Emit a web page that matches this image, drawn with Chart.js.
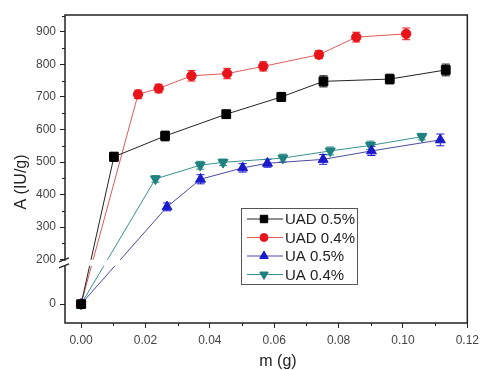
<!DOCTYPE html>
<html><head><meta charset="utf-8">
<script src="https://cdn.jsdelivr.net/npm/chart.js@4/dist/chart.umd.min.js"></script>
<style>html,body{margin:0;padding:0;background:#fff}#wrap{width:484px;height:370px}</style>
</head><body><div id="wrap"><canvas id="c" width="484" height="370"></canvas></div>
<script>
// ---- data ----
const seriesNames = ['UAD 0.5%', 'UAD 0.4%', 'UA 0.5%', 'UA 0.4%'];
const uad05X = [0, 0.0102, 0.0261, 0.0451, 0.0622, 0.0753, 0.0959, 0.1133];
const uad05Y = [0, 516, 580, 647, 700, 748, 755, 783];
const uad05Err = [0, 14, 15, 12, 14, 17, 15, 18];
const uad04X = [0, 0.0177, 0.0241, 0.0343, 0.0454, 0.0566, 0.0739, 0.0855, 0.1010];
const uad04Y = [0, 708, 726, 765, 772, 794, 830, 884, 894];
const uad04Err = [0, 13, 13, 16, 16, 14, 12, 15, 18];
const ua05X = [0, 0.0267, 0.0371, 0.0502, 0.0579, 0.0752, 0.0902, 0.1116];
const ua05Y = [0, 362, 447, 482, 496, 508, 534, 568];
const ua05Err = [0, 12, 14, 13, 12, 15, 14, 18];
const ua04X = [0, 0.0231, 0.0370, 0.0441, 0.0627, 0.0774, 0.0899, 0.1059];
const ua04Y = [0, 448, 490, 499, 512, 534, 551, 578];
const ua04Err = [0, 10, 12, 10, 12, 12, 13, 10];
const xTickValues = [0, 0.02, 0.04, 0.06, 0.08, 0.10, 0.12];
const xMinorValues = [0.01, 0.03, 0.05, 0.07, 0.09, 0.11];
const yTickValues = [0, 200, 300, 400, 500, 600, 700, 800, 900];
const yMinorValues = [250, 350, 450, 550, 650, 750, 850, 950];

// ---- broken axis mapping (0..200 compressed) ----
const BREAK_LOW_DISP = 63;
function toDisp(v) { return v >= 200 ? v : BREAK_LOW_DISP + v * (200 - BREAK_LOW_DISP) / 200; }
function fromDisp(d) { return d >= 200 ? d : (d - BREAK_LOW_DISP) * 200 / (200 - BREAK_LOW_DISP); }

const colors = ['#000000', '#e8141a', '#1a1acc', '#1f8080'];
const lineColors = ['#222222', '#e05a5a', '#4a4aa0', '#3a9090'];
const styles = ['rect', 'circle', 'triangle', 'triangle'];
const rotations = [0, 0, 0, 180];
const radii = [6.2, 4.7, 5.8, 5.8];
const xs = [uad05X, uad04X, ua05X, ua04X];
const ys = [uad05Y, uad04Y, ua05Y, ua04Y];
const errs = [uad05Err, uad04Err, ua05Err, ua04Err];

const datasets = seriesNames.map((name, i) => ({
  label: name,
  data: xs[i].map((x, j) => ({ x: x, y: toDisp(ys[i][j]), err: errs[i][j] })),
  showLine: true,
  borderColor: lineColors[i],
  borderWidth: 1,
  backgroundColor: colors[i],
  pointBackgroundColor: colors[i],
  pointBorderColor: colors[i],
  pointBorderWidth: 1,
  pointStyle: styles[i],
  pointRotation: rotations[i],
  pointRadius: radii[i],
  tension: 0
}));

const FONT = '"Liberation Sans", Arial, sans-serif';

const decor = {
  id: 'decor',
  beforeDatasetsDraw(chart) {
    const ctx = chart.ctx, xs_ = chart.scales.x, ys_ = chart.scales.y;
    ctx.save();
    chart.data.datasets.forEach((ds, i) => {
      ctx.strokeStyle = colors[i];
      ctx.lineWidth = 1;
      ds.data.forEach(p => {
        if (!p.err) return;
        const px = xs_.getPixelForValue(p.x);
        const y1 = ys_.getPixelForValue(p.y + p.err), y2 = ys_.getPixelForValue(p.y - p.err);
        ctx.beginPath();
        ctx.moveTo(px, y1); ctx.lineTo(px, y2);
        ctx.moveTo(px - 4, y1); ctx.lineTo(px + 4, y1);
        ctx.moveTo(px - 4, y2); ctx.lineTo(px + 4, y2);
        ctx.stroke();
      });
    });
    ctx.restore();
  },
  afterDatasetsDraw(chart) {
    const ctx = chart.ctx, a = chart.chartArea, xs_ = chart.scales.x, ys_ = chart.scales.y;
    ctx.save();
    // break band in plot
    const yb = ys_.getPixelForValue(190);
    ctx.fillStyle = '#ffffff';
    ctx.fillRect(a.left + 1, yb - 3, 150, 6);
    // frame
    ctx.strokeStyle = '#222';
    ctx.lineWidth = 1.5;
    ctx.strokeRect(a.left, a.top, a.right - a.left, a.bottom - a.top);
    // minor ticks
    ctx.lineWidth = 1;
    ctx.beginPath();
    xMinorValues.forEach(v => { const p = Math.round(xs_.getPixelForValue(v)) + 0.5; ctx.moveTo(p, a.bottom); ctx.lineTo(p, a.bottom + 3); });
    yMinorValues.forEach(v => { const p = Math.round(ys_.getPixelForValue(toDisp(v))) + 0.5; ctx.moveTo(a.left, p); ctx.lineTo(a.left - 3, p); });
    ctx.stroke();
    // axis break mark
    ctx.fillStyle = '#fff';
    ctx.fillRect(a.left - 2, yb - 2, 4, 5);
    ctx.strokeStyle = '#222';
    ctx.lineWidth = 1.3;
    ctx.beginPath();
    ctx.moveTo(a.left - 6, yb - 1); ctx.lineTo(a.left + 4, yb - 5);
    ctx.moveTo(a.left - 6, yb + 5); ctx.lineTo(a.left + 4, yb + 1);
    ctx.stroke();
    // legend
    const lx = 241, ly = 208, lw = 116, lh = 76;
    ctx.fillStyle = '#fff';
    ctx.fillRect(lx, ly, lw, lh);
    ctx.strokeStyle = '#555';
    ctx.lineWidth = 1;
    ctx.strokeRect(lx + 0.5, ly + 0.5, lw, lh);
    ctx.font = '15px ' + FONT;
    ctx.textBaseline = 'middle';
    ctx.textAlign = 'left';
    seriesNames.forEach((n, i) => {
      const yy = ly + 11 + i * 18.5;
      ctx.strokeStyle = lineColors[i];
      ctx.lineWidth = 1;
      ctx.beginPath(); ctx.moveTo(lx + 6, yy); ctx.lineTo(lx + 42, yy); ctx.stroke();
      ctx.fillStyle = colors[i];
      ctx.strokeStyle = colors[i];
      Chart.helpers.drawPoint(ctx, { pointStyle: styles[i], rotation: rotations[i], radius: radii[i] * 0.85, borderWidth: 1 }, lx + 23, yy);
      ctx.fillStyle = '#222';
      ctx.fillText(n, lx + 44, yy + 1);
    });
    // axis titles
    ctx.fillStyle = '#222';
    ctx.font = '16px ' + FONT;
    ctx.textAlign = 'center';
    ctx.fillText('m (g)', 278, 362);
    ctx.translate(22, 182);
    ctx.rotate(-Math.PI / 2);
    ctx.fillText('A (IU/g)', 0, 0);
    ctx.restore();
  }
};

new Chart(document.getElementById('c'), {
  type: 'scatter',
  data: { datasets: datasets },
  options: {
    responsive: false,
    animation: false,
    devicePixelRatio: 1,
    layout: { padding: { top: 15, right: 12, left: 0, bottom: 0 } },
    plugins: { legend: { display: false }, tooltip: { enabled: false } },
    scales: {
      x: {
        type: 'linear', min: -0.005, max: 0.12,
        afterBuildTicks: s => { s.ticks = xTickValues.map(v => ({ value: v })); },
        afterFit: s => { s.height = 47; },
        grid: { drawOnChartArea: false, drawTicks: true, tickLength: 5, color: '#222' },
        border: { display: false },
        ticks: { color: '#444', font: { size: 12, family: FONT }, padding: 5, maxRotation: 0,
          callback: v => Number(v).toFixed(2) }
      },
      y: {
        type: 'linear', min: 5, max: 952,
        afterBuildTicks: s => { s.ticks = yTickValues.map(v => ({ value: toDisp(v) })); },
        afterFit: s => { s.width = 65; },
        grid: { drawOnChartArea: false, drawTicks: true, tickLength: 5, color: '#222' },
        border: { display: false },
        ticks: { color: '#444', font: { size: 12, family: FONT }, padding: 4,
          callback: v => String(Math.round(fromDisp(v))) }
      }
    }
  },
  plugins: [decor]
});
</script>
</body></html>
